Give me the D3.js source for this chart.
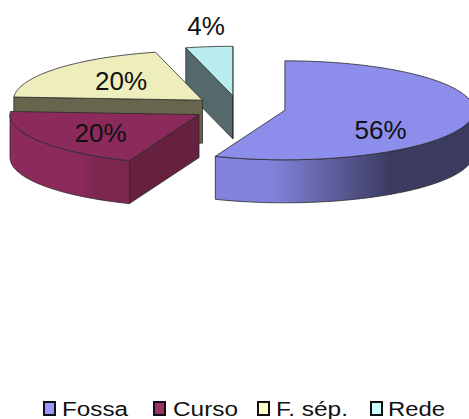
<!DOCTYPE html>
<html>
<head>
<meta charset="utf-8">
<script src="https://cdn.jsdelivr.net/npm/d3@7/dist/d3.min.js"></script>
<style>
html,body{margin:0;padding:0;background:#fff;overflow:hidden}
svg{display:block}
text{font-family:"Liberation Sans",Arial,sans-serif;fill:#111}
</style>
</head>
<body>
<svg id="chart" width="469" height="419"></svg>
<script>
// Sewage destination shares, drawn as an exploded 3D pie
const categories = ["Fossa", "Curso", "F. sép.", "Rede"];
const shares = [56, 20, 20, 4];
const labels = ["56%", "20%", "20%", "4%"];
const topColors = ["#8d8deb", "#8b2a5b", "#eeeebd", "#b9eded"];
const cutColors = ["#3c3c63", "#66213f", "#67664c", "#55696b"];
const wallLight = ["#8282dc", "#8b2a5b", "#8a8a6c", "#6c8a8a"];
const wallDark = ["#3b3b60", "#7c2650", "#67664c", "#55696b"];
const legendColors = ["#9999ff", "#993366", "#ffffcc", "#ccffff"];

const cx = 238.7, cy = 108, rx = 189, ry = 49.5, depth = 43, explode = 47;
const labelAnchors = [[380.5, 132], [100.5, 135], [121, 83], [206, 28]];
const legendSwatchX = [44, 154, 258, 371];
const legendTextX = [62, 173, 276, 388];
const legendWidth = [66, 65, 72, 57];
const drawOrder = [3, 2, 1, 0];

const svg = d3.select("#chart");
const defs = svg.append("defs");
const slices = d3.pie().sort(null).value(d => d)(shares);

// Elliptical projection of a polar position around a slice's own centre
const rimPoint = (c, a, drop = 0) => [c[0] + rx * Math.sin(a), c[1] - ry * Math.cos(a) + drop];
const line = d3.line();
const arcSteps = (a0, a1) => {
  const n = Math.max(2, Math.ceil(Math.abs(a1 - a0) / 0.02));
  return d3.range(n + 1).map(i => a0 + (a1 - a0) * i / n);
};
const edge = {stroke: "#2a2a2a", width: 0.8};

function face(d, fill) {
  return svg.append("path").attr("d", line(d) + "Z").attr("fill", fill)
    .attr("stroke", edge.stroke).attr("stroke-width", edge.width).attr("stroke-linejoin", "round");
}

drawOrder.forEach(i => {
  const s = slices[i];
  const mid = (s.startAngle + s.endAngle) / 2;
  const c = [cx + explode * Math.sin(mid), cy - explode * (ry / rx) * Math.cos(mid)];

  // Radial cut faces that turn towards the viewer
  if (Math.sin(s.startAngle) < 0) {
    const p = rimPoint(c, s.startAngle);
    face([c, p, [p[0], p[1] + depth], [c[0], c[1] + depth]], cutColors[i]);
  }
  if (Math.sin(s.endAngle) > 0) {
    const p = rimPoint(c, s.endAngle);
    face([c, p, [p[0], p[1] + depth], [c[0], c[1] + depth]], cutColors[i]);
  }

  // Curved outer wall along the front half of the ellipse
  const w0 = Math.max(s.startAngle, Math.PI / 2);
  const w1 = Math.min(s.endAngle, 3 * Math.PI / 2);
  if (w1 > w0) {
    const steps = arcSteps(w0, w1);
    const upper = steps.map(a => rimPoint(c, a));
    const lower = steps.slice().reverse().map(a => rimPoint(c, a, depth));
    const xs = upper.map(p => p[0]);
    const id = "wall" + i;
    const g = defs.append("linearGradient").attr("id", id)
      .attr("gradientUnits", "userSpaceOnUse")
      .attr("x1", d3.min(xs)).attr("x2", d3.max(xs)).attr("y1", 0).attr("y2", 0);
    g.append("stop").attr("offset", 0).attr("stop-color", wallLight[i]);
    g.append("stop").attr("offset", i === 0 ? 0.22 : 0.6).attr("stop-color", wallLight[i]);
    g.append("stop").attr("offset", i === 0 ? 0.68 : 0.75).attr("stop-color", wallDark[i]);
    g.append("stop").attr("offset", 1).attr("stop-color", wallDark[i]);
    face(upper.concat(lower), `url(#${id})`);
  }

  // Top face
  const rim = arcSteps(s.startAngle, s.endAngle).map(a => rimPoint(c, a));
  face([c].concat(rim), topColors[i]);
});

// Percentage labels
labels.forEach((t, i) => {
  svg.append("text").attr("x", labelAnchors[i][0]).attr("y", labelAnchors[i][1])
    .attr("text-anchor", "middle").attr("dominant-baseline", "middle")
    .attr("font-size", 26).text(t);
});

// Legend
categories.forEach((name, i) => {
  svg.append("rect").attr("x", legendSwatchX[i]).attr("y", 402)
    .attr("width", 11).attr("height", 13).attr("fill", legendColors[i])
    .attr("stroke", "#111").attr("stroke-width", 2);
  svg.append("text").attr("x", legendTextX[i]).attr("y", 415.5)
    .attr("font-size", 20).attr("textLength", legendWidth[i])
    .attr("lengthAdjust", "spacingAndGlyphs").text(name);
});
</script>
</body>
</html>
